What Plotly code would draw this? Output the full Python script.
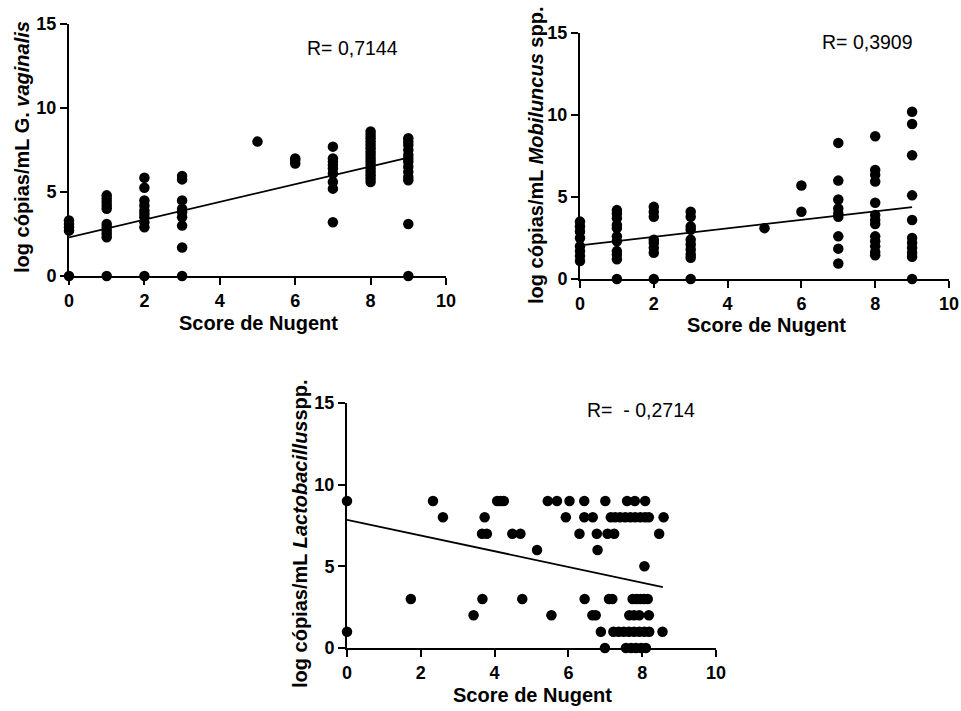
import plotly.graph_objects as go

# ---------------- data ----------------
# Panel 1: G. vaginalis  (values grouped by Nugent score)
gv_scores = [0, 1, 2, 3, 5, 6, 7, 8, 9]
gv_values = [
    [0, 2.7, 2.9, 3.1, 3.3],
    [0, 2.3, 2.5, 2.7, 2.9, 3.1, 4.0, 4.2, 4.4, 4.6, 4.8],
    [0, 2.9, 3.2, 3.5, 3.7, 3.9, 4.2, 4.5, 5.25, 5.85],
    [0, 1.7, 3.0, 3.5, 3.8, 4.0, 4.5, 5.75, 5.95],
    [8.0],
    [6.7, 6.9, 7.0],
    [3.2, 5.2, 5.6, 6.1, 6.4, 6.6, 6.8, 7.0, 7.7],
    [5.6, 5.8, 6.0, 6.2, 6.4, 6.6, 6.8, 7.0, 7.2, 7.4, 7.6, 7.8, 8.0, 8.2, 8.4, 8.6],
    [0, 3.1, 5.7, 5.9, 6.2, 6.5, 6.8, 7.0, 7.2, 7.5, 7.8, 8.0, 8.2],
]
gv_fit_x = [0, 9]
gv_fit_y = [2.3, 7.05]
gv_r = "R= 0,7144"

# Panel 2: Mobiluncus spp.
mb_scores = [0, 1, 2, 3, 5, 6, 7, 8, 9]
mb_values = [
    [1.1, 1.4, 1.7, 2.0, 2.5, 2.9, 3.2, 3.5],
    [0, 1.2, 1.5, 1.7, 2.3, 2.6, 3.1, 3.3, 3.7, 4.0, 4.2],
    [0, 1.6, 1.9, 2.2, 2.4, 3.8, 4.1, 4.4],
    [0, 1.3, 1.5, 1.8, 2.1, 2.4, 3.0, 3.2, 3.8, 4.1],
    [3.1],
    [4.1, 5.7],
    [0.95, 1.85, 2.6, 3.8, 4.0, 4.3, 4.85, 6.0, 8.3],
    [1.45, 1.65, 2.0, 2.3, 2.6, 3.35, 3.6, 3.9, 4.65, 5.95, 6.35, 6.65, 8.7],
    [0, 1.35, 1.6, 1.9, 2.2, 2.5, 3.6, 5.1, 7.55, 9.45, 10.2],
]
mb_fit_x = [0, 9]
mb_fit_y = [2.05, 4.38]
mb_r = "R= 0,3909"

# Panel 3: Lactobacillus spp. (scores grouped by log value level)
lb_levels = [9, 8, 7, 6, 5, 3, 2, 1, 0]
lb_scores = [
    [0, 2.33, 4.07, 4.16, 4.25, 5.44, 5.69, 6.03, 6.43, 7.0, 7.59, 7.8, 8.08],
    [2.6, 3.73, 5.93, 6.43, 6.66, 7.15, 7.27, 7.4, 7.54, 7.68, 7.81, 7.95, 8.08, 8.18, 8.58],
    [3.66, 3.79, 4.48, 4.7, 6.3, 6.77, 7.06, 7.24, 8.46],
    [5.15, 6.79],
    [8.06],
    [1.73, 3.67, 4.75, 6.44, 7.1, 7.19, 7.74, 7.85, 7.95, 8.05, 8.15],
    [3.43, 5.54, 6.65, 6.74, 7.65, 7.78, 7.92, 8.18],
    [0, 6.88, 7.22, 7.36, 7.5, 7.64, 7.78, 7.92, 8.06, 8.19, 8.55],
    [6.99, 7.56, 7.7, 7.83, 7.97, 8.1],
]
lb_fit_x = [0, 8.56]
lb_fit_y = [7.85, 3.73]
lb_r = "R=  - 0,2714"

x_ticks = [0, 2, 4, 6, 8, 10]
y_ticks = [0, 5, 10, 15]
x_title = "Score de Nugent"
y_titles = [
    "<b>log cópias/mL G. <i>vaginalis</i></b>",
    "<b>log cópias/mL <i>Mobiluncus</i> spp.</b>",
    "<b>log cópias/mL <i>Lactobacillus</i>spp.</b>",
]

# ---------------- build ----------------
W, H = 961, 711
FONT = "Liberation Sans, Arial, sans-serif"


def flat_by_x(xs, groups):
    X, Y = [], []
    for x, g in zip(xs, groups):
        for v in g:
            X.append(x)
            Y.append(v)
    return X, Y


def flat_by_y(ys, groups):
    X, Y = [], []
    for y, g in zip(ys, groups):
        for v in g:
            X.append(v)
            Y.append(y)
    return X, Y


gv_x, gv_y = flat_by_x(gv_scores, gv_values)
mb_x, mb_y = flat_by_x(mb_scores, mb_values)
lb_x, lb_y = flat_by_y(lb_levels, lb_scores)

fig = go.Figure()

panels = [
    ("x", "y", gv_x, gv_y, gv_fit_x, gv_fit_y),
    ("x2", "y2", mb_x, mb_y, mb_fit_x, mb_fit_y),
    ("x3", "y3", lb_x, lb_y, lb_fit_x, lb_fit_y),
]
for xa, ya, px, py, fx, fy in panels:
    fig.add_trace(go.Scatter(x=fx, y=fy, mode="lines", xaxis=xa, yaxis=ya,
                             line=dict(color="black", width=1.8),
                             showlegend=False, hoverinfo="skip"))
    fig.add_trace(go.Scatter(x=px, y=py, mode="markers", xaxis=xa, yaxis=ya,
                             marker=dict(color="black", size=10.5),
                             cliponaxis=False, showlegend=False))


def px2x(p):
    return p / W


def px2y(p):
    return 1 - p / H


# axis domains (pixel boxes from the reference)
boxes = [
    (69, 446, 24, 276),
    (580, 949, 33, 279),
    (347, 716, 403, 648),
]

axis_common = dict(showline=True, linecolor="black", linewidth=2,
                   ticks="outside", ticklen=7, tickwidth=2, tickcolor="black",
                   showgrid=False, zeroline=False, automargin=False,
                   tickfont=dict(family=FONT, size=18, color="black"))

layout = dict(width=W, height=H,
              margin=dict(l=0, r=0, t=0, b=0, pad=0, autoexpand=False),
              autosize=False,
              plot_bgcolor="white", paper_bgcolor="white",
              font=dict(family=FONT, color="black"), showlegend=False)
names = [("xaxis", "yaxis", "y", "x"), ("xaxis2", "yaxis2", "y2", "x2"),
         ("xaxis3", "yaxis3", "y3", "x3")]
for (xn, yn, anc_y, anc_x), (l, r, t, b) in zip(names, boxes):
    layout[xn] = dict(axis_common, domain=[px2x(l), px2x(r)], range=[0, 10],
                      tickvals=x_ticks, ticktext=["<b>%d</b>" % v for v in x_ticks],
                      anchor=anc_y)
    layout[yn] = dict(axis_common, domain=[px2y(b), px2y(t)], range=[0, 15],
                      tickvals=y_ticks, ticktext=["<b>%d</b>" % v for v in y_ticks],
                      anchor=anc_x)
fig.update_layout(**layout)

annotations = []
# R labels (data coordinates)
for xr, yr, txt, ax, ay in [("x", "y", gv_r, 7.53, 13.6),
                            ("x2", "y2", mb_r, 7.8, 14.45),
                            ("x3", "y3", lb_r, 7.97, 14.6)]:
    annotations.append(dict(xref=xr, yref=yr, x=ax, y=ay, text=txt, showarrow=False,
                            xanchor="center", yanchor="middle",
                            font=dict(family=FONT, size=19.5, color="black")))
# x titles
for cx, cy in [(258, 323), (766, 325), (532, 695)]:
    annotations.append(dict(xref="paper", yref="paper", x=px2x(cx), y=px2y(cy),
                            xanchor="center", yanchor="middle",
                            text="<b>" + x_title + "</b>", showarrow=False,
                            font=dict(family=FONT, size=20, color="black")))
# y titles
for (cx, cy), txt in zip([(22, 147), (536, 156), (300, 534)], y_titles):
    annotations.append(dict(xref="paper", yref="paper", x=px2x(cx), y=px2y(cy),
                            xanchor="center", yanchor="middle",
                            text=txt, textangle=-90, showarrow=False,
                            font=dict(family=FONT, size=20, color="black")))
fig.update_layout(annotations=annotations)

fig.write_html("out.html")
